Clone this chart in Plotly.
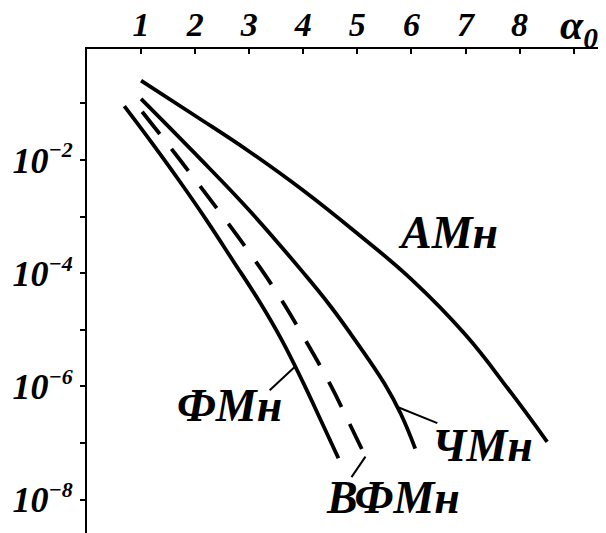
import plotly.graph_objects as go

# ---- data (x = alpha_0, y = probability) ----
am_x = [1.0, 2.0, 3.0, 4.0, 5.0, 6.0, 7.0, 7.8, 8.51]
am_y = [2.51e-1, 6.03e-2, 1.41e-2, 2.88e-3, 5.01e-4, 7.76e-5, 8.13e-6, 8.71e-7, 1.05e-7]

chm_x = [1.0, 2.0, 3.0, 4.0, 4.5, 5.0, 5.5, 5.8, 6.07]
chm_y = [1.20e-1, 1.29e-2, 1.29e-3, 1.02e-4, 2.63e-5, 5.75e-6, 1.12e-6, 3.31e-7, 7.94e-8]

vfm_x = [1.02, 1.5, 2.0, 2.5, 3.0, 3.5, 4.0, 4.5, 4.85, 5.15]
vfm_y = [7.08e-2, 1.86e-2, 4.47e-3, 1.05e-3, 2.34e-4, 4.68e-5, 7.59e-6, 1.07e-6, 2.24e-7, 5.75e-8]

fm_x = [0.69, 1.2, 1.7, 2.2, 2.7, 3.2, 3.6, 4.0, 4.3, 4.65]
fm_y = [8.91e-2, 2.00e-2, 4.37e-3, 8.91e-4, 1.66e-4, 3.02e-5, 6.61e-6, 1.15e-6, 2.82e-7, 5.37e-8]

x_tick_vals = [1, 2, 3, 4, 5, 6, 7, 8, 9]
x_tick_text = ["1", "2", "3", "4", "5", "6", "7", "8", " "]
y_tick_vals = [1e-1, 1e-2, 1e-3, 1e-4, 1e-5, 1e-6, 1e-7, 1e-8]
y_tick_exp = ["", "−2", "", "−4", "", "−6", "", "−8"]

FONT = "Liberation Serif"
BLACK = "#000000"

fig = go.Figure()

def curve(x, y, dash="solid"):
    fig.add_trace(go.Scatter(
        x=x, y=y, mode="lines",
        line=dict(color=BLACK, width=3.8, dash=dash, shape="spline", smoothing=1.2),
        showlegend=False, hoverinfo="skip",
    ))

curve(am_x, am_y)
curve(chm_x, chm_y)
curve(vfm_x, vfm_y, dash="28px,19px")
curve(fm_x, fm_y)

def styled(text):
    return "<b><i>" + text + "</i></b>"

def y_label(exp):
    if not exp:
        return " "
    return styled("10<sup><span style='font-size:22px'>" + exp + "</span></sup>")

label_font = dict(family=FONT, size=46, color=BLACK)

def label(text, x, y):
    fig.add_annotation(x=x, y=y, text=styled(text), showarrow=False, font=label_font,
                       xanchor="center", yanchor="middle")

def leader(x, y, ax, ay):
    fig.add_annotation(x=x, y=y, text="", showarrow=True, arrowhead=0,
                       arrowwidth=2, arrowcolor=BLACK, ax=ax, ay=ay,
                       standoff=0, startstandoff=0)

label("АМн", 6.68, -3.29)
label("ФМн", 2.63, -6.33)
label("ВФМн", 5.65, -7.96)
label("ЧМн", 7.32, -7.04)

leader(3.85, -5.65, -27, 25)
leader(5.73, -6.36, 42, 17)
leader(vfm_x[-1], -7.24, -15, 22)

fig.add_annotation(x=9.09, y=1.0434, xref="x", yref="paper", text=styled("α<sub>0</sub>"),
                   showarrow=False, xanchor="center", yanchor="middle",
                   font=dict(family=FONT, size=42, color=BLACK))

fig.update_layout(
    width=606, height=533,
    margin=dict(l=87, r=8, t=49, b=0),
    paper_bgcolor="white", plot_bgcolor="white",
    xaxis=dict(
        range=[0, 9.45], side="top", showgrid=False, zeroline=False,
        showline=True, linecolor=BLACK, linewidth=2,
        ticks="inside", ticklen=5, tickwidth=2, tickcolor=BLACK,
        tickvals=x_tick_vals, ticktext=[styled(t) for t in x_tick_text],
        tickfont=dict(family=FONT, size=34, color=BLACK),
        ticklabelstandoff=-3,
    ),
    yaxis=dict(
        type="log", range=[-8.59, -0.041], showgrid=False, zeroline=False,
        showline=True, linecolor=BLACK, linewidth=2,
        ticks="outside", ticklen=5, tickwidth=2, tickcolor=BLACK,
        tickvals=y_tick_vals, ticktext=[y_label(e) for e in y_tick_exp],
        tickfont=dict(family=FONT, size=36, color=BLACK),
        ticklabelstandoff=0,
    ),
)

fig.write_html("out.html")
